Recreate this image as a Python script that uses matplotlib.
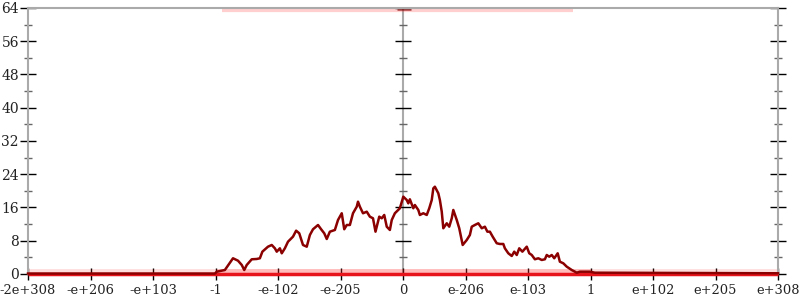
#!/usr/bin/env python
# distribution of sampled doubles, plotted on a bit-pattern axis

import numpy as np
import matplotlib
matplotlib.use('Agg')
from matplotlib import pyplot as plt

# tick positions on the (ordered bit pattern) axis and their labels
xticks = [-6, -5, -4, -3, -2, -1, 0, 1, 2, 3, 4, 5, 6]
xlabels = ['-2e+308', '-e+206', '-e+103', '-1', '-e-102', '-e-205', '0',
           'e-206', 'e-103', '1', 'e+102', 'e+205', 'e+308']
yticks = [0, 8, 16, 24, 32, 40, 48, 56, 64]

# histogram counts
hist_x = [-6.0, -3.01, -2.98, -2.85, -2.72, -2.64, -2.58, -2.54, -2.50, -2.42,
          -2.34, -2.29, -2.25, -2.16, -2.10, -2.05, -2.02, -1.97, -1.94, -1.89,
          -1.84, -1.76, -1.71, -1.66, -1.60, -1.54, -1.49, -1.44, -1.36, -1.31,
          -1.26, -1.22, -1.17, -1.09, -1.04, -0.98, -0.94, -0.90, -0.85, -0.80,
          -0.74, -0.72, -0.69, -0.64, -0.58, -0.53, -0.48, -0.44, -0.38, -0.34,
          -0.30, -0.26, -0.21, -0.18, -0.13, -0.05, 0.005, 0.06, 0.085, 0.11,
          0.165, 0.19, 0.245, 0.27, 0.325, 0.38, 0.42, 0.46, 0.485, 0.51,
          0.565, 0.59, 0.62, 0.645, 0.70, 0.74, 0.78, 0.805, 0.86, 0.90,
          0.955, 1.02, 1.07, 1.10, 1.15, 1.205, 1.26, 1.31, 1.35, 1.39,
          1.435, 1.50, 1.55, 1.605, 1.63, 1.685, 1.74, 1.78, 1.82, 1.86,
          1.91, 1.98, 2.02, 2.06, 2.11, 2.165, 2.22, 2.27, 2.30, 2.34,
          2.38, 2.42, 2.475, 2.51, 2.565, 2.62, 2.70, 2.78, 2.83, 2.99,
          3.07, 6.0]
hist_y = [0.1, 0.1, 0.55, 0.96, 3.78, 3.2, 2.17, 0.96, 2.17, 3.54,
          3.61, 3.78, 5.37, 6.57, 6.98, 6.18, 5.37, 6.18, 4.98, 6.18,
          7.77, 8.98, 10.42, 9.79, 6.98, 6.57, 9.38, 10.76, 11.79, 10.76,
          9.79, 8.42, 10.18, 10.59, 12.99, 14.61, 10.76, 11.79, 11.79, 14.61,
          16.19, 17.4, 16.19, 14.61, 14.99, 13.79, 13.4, 10.18, 13.79, 13.4,
          14.2, 11.38, 10.59, 12.99, 14.61, 15.81, 18.6, 17.8, 17.0, 17.97,
          15.81, 16.6, 15.4, 14.2, 14.61, 14.2, 15.81, 17.8, 20.6, 21.0,
          19.42, 17.8, 14.99, 11.0, 12.2, 11.38, 13.4, 15.4, 12.99, 11.0,
          6.98, 8.18, 9.38, 11.38, 11.79, 12.2, 11.0, 11.38, 10.18, 10.18,
          8.98, 7.39, 7.22, 7.22, 6.18, 4.98, 4.33, 5.37, 4.57, 6.18,
          5.37, 6.57, 4.98, 4.57, 3.54, 3.78, 3.37, 3.54, 4.57, 4.16,
          4.57, 3.78, 4.98, 2.96, 2.57, 1.76, 0.96, 0.31, 0.55, 0.55,
          0.31, 0.17]

# faint sample rugs along the bottom and the top
rug_bottom = (-6.0, 6.0)
rug_bottom_dense = (-3.0, 3.0)
rug_top = (-2.9, 2.72)

fig = plt.figure(figsize=(8, 3), dpi=100)
ax = fig.add_axes([0.035, 0.0867, 0.9375, 0.8867])

ax.plot(rug_bottom, [0.75, 0.75], color='#ff2020', alpha=0.15, lw=3.5, solid_capstyle='butt')
ax.plot(rug_bottom_dense, [0.75, 0.75], color='#ff2020', alpha=0.18, lw=3.5, solid_capstyle='butt')
ax.plot(rug_top, [63.6, 63.6], color='#ff2020', alpha=0.22, lw=3, solid_capstyle='butt')
ax.plot([-0.1, 0.12], [63.8, 63.8], color='#8b0000', alpha=0.6, lw=2, solid_capstyle='butt')
ax.plot(rug_bottom, [0, 0], color='#e8141c', lw=2.5, solid_capstyle='butt', zorder=3,
        clip_on=False)

ax.plot(hist_x, hist_y, color='#8b0000', lw=1.8, zorder=4, clip_on=False)

# zero axis in the middle, with its own tick marks
grey = '#aaaaaa'
ax.axvline(0, color=grey, lw=1.5, zorder=1)
ax.plot([0] * len(yticks), yticks, ls='none', marker='_', ms=11, mew=1, color='black', zorder=2)
minor = [y + 4 for y in yticks[:-1]]
ax.plot([0] * len(minor), minor, ls='none', marker='_', ms=6, mew=1, color='#666666', zorder=2)

ax.set_xlim(-6, 6)
ax.set_ylim(0, 64)
ax.set_xticks(xticks)
ax.set_xticklabels(xlabels)
ax.set_yticks(yticks)
ax.set_yticks(minor, minor=True)

for side in ['left', 'right', 'top']:
    ax.spines[side].set_color(grey)
    ax.spines[side].set_linewidth(1.5)
ax.spines['bottom'].set_visible(False)

ax.tick_params(axis='y', which='major', direction='inout', length=11, width=1,
               color='black', right=True, pad=1)
ax.tick_params(axis='y', which='minor', direction='inout', length=6, width=1,
               color='#666666', right=True)
ax.tick_params(axis='x', which='major', direction='inout', length=9, width=1,
               color='black', pad=3)
for lbl in ax.get_xticklabels():
    lbl.set_family('DejaVu Serif')
    lbl.set_fontsize(9.4)
    lbl.set_color('#222222')
for lbl in ax.get_yticklabels():
    lbl.set_family('DejaVu Serif')
    lbl.set_fontsize(10)
    lbl.set_color('#222222')

fig.savefig('out.png')
